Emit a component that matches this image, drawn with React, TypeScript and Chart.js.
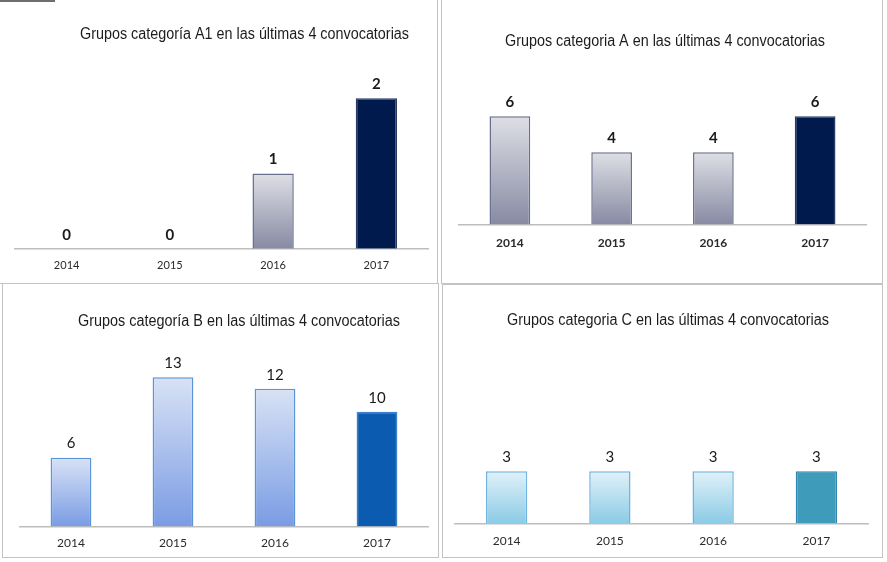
import React, { useEffect, useRef } from "react";
import { Chart, registerables } from "chart.js";

Chart.register(...registerables);

const CATEGORIES = ["2014", "2015", "2016", "2017"];
const A1_VALUES = [0, 0, 1, 2];
const A_VALUES = [6, 4, 4, 6];
const B_VALUES = [6, 13, 12, 10];
const C_VALUES = [3, 3, 3, 3];
const TITLE_A1 = "Grupos categoría A1 en las últimas 4 convocatorias";
const TITLE_A = "Grupos categoria A en las últimas 4 convocatorias";
const TITLE_B = "Grupos categoría B en las últimas 4 convocatorias";
const TITLE_C = "Grupos categoria C en las últimas 4 convocatorias";

type Panel = {
  values: number[];
  title: string;
  left: number;
  top: number;
  width: number;
  height: number;
  pad: { left: number; right: number; top: number; bottom: number };
  yMax: number;
  titleX: number;
  titleY: number;
  titleW: number;
  gradTop: string;
  gradBottom: string;
  border: string;
  lastFill: string;
  lastBorder: string;
  labelBold: boolean;
  tickBold: boolean;
  tickPad: number;
  tickSize: number;
};

const PANELS: Panel[] = [
  {
    values: A1_VALUES, title: TITLE_A1,
    left: 0, top: 0, width: 440, height: 283,
    pad: { left: 15, right: 12, top: 53, bottom: 9 }, yMax: 2.6,
    titleX: 244.5, titleY: 35, titleW: 329,
    gradTop: "#dedfe5", gradBottom: "#878aa3", border: "#68708e",
    lastFill: "#001a4e", lastBorder: "#2a3a66",
    labelBold: true, tickBold: false, tickPad: 2, tickSize: 11,
  },
  {
    values: A_VALUES, title: TITLE_A,
    left: 442, top: 0, width: 443, height: 283,
    pad: { left: 17, right: 19, top: 62, bottom: 30 }, yMax: 9,
    titleX: 223, titleY: 42, titleW: 320,
    gradTop: "#dedfe5", gradBottom: "#878aa3", border: "#68708e",
    lastFill: "#001a4e", lastBorder: "#2a3a66",
    labelBold: true, tickBold: true, tickPad: 3, tickSize: 12,
  },
  {
    values: B_VALUES, title: TITLE_B,
    left: 0, top: 283, width: 440, height: 276,
    pad: { left: 20, right: 12, top: 62, bottom: 8 }, yMax: 15.8,
    titleX: 239, titleY: 39, titleW: 322,
    gradTop: "#d8e2f5", gradBottom: "#7a9ce4", border: "#5b95d8",
    lastFill: "#0b5bb0", lastBorder: "#3b7fca",
    labelBold: false, tickBold: false, tickPad: 1, tickSize: 12,
  },
  {
    values: C_VALUES, title: TITLE_C,
    left: 442, top: 284, width: 443, height: 275,
    pad: { left: 13, right: 17, top: 62, bottom: 9 }, yMax: 10.2,
    titleX: 226, titleY: 37, titleW: 322,
    gradTop: "#e0f1f9", gradBottom: "#8bcbe5", border: "#6fb3de",
    lastFill: "#3e9cba", lastBorder: "#2f85b0",
    labelBold: false, tickBold: false, tickPad: 2, tickSize: 12,
  },
];

function ChartPanel({ p }: { p: Panel }) {
  const ref = useRef<HTMLCanvasElement | null>(null);
  useEffect(() => {
    if (!ref.current) return;
    const titlePlugin = {
      id: "panelTitle",
      afterDraw(chart: any) {
        const c = chart.ctx;
        c.save();
        c.font = "16px 'Liberation Sans', Arial, sans-serif";
        c.fillStyle = "#1c1c1c";
        c.textAlign = "center";
        c.textBaseline = "middle";
        c.fillText(p.title, p.titleX, p.titleY, p.titleW);
        c.restore();
      },
    };
    const labelPlugin = {
      id: "valueLabels",
      afterDatasetsDraw(chart: any) {
        const c = chart.ctx;
        const meta = chart.getDatasetMeta(0);
        c.save();
        c.font = (p.labelBold ? "bold " : "") + "15px Lato, 'Open Sans', sans-serif";
        c.fillStyle = "#1a1a1a";
        c.textAlign = "center";
        c.textBaseline = "middle";
        meta.data.forEach((el: any, i: number) => {
          c.fillText(String(p.values[i]), el.x, el.y - 14);
        });
        c.restore();
      },
    };
    const chart = new Chart(ref.current, {
      type: "bar",
      data: {
        labels: CATEGORIES,
        datasets: [
          {
            data: p.values,
            backgroundColor: (ctx: any) => {
              if (ctx.dataIndex === 3) return p.lastFill;
              const chart = ctx.chart;
              if (!chart.chartArea || !chart.scales.y) return p.gradTop;
              const y = chart.scales.y;
              const t = y.getPixelForValue(ctx.raw as number);
              const b = y.getPixelForValue(0);
              if (!(b - t > 0.5)) return p.gradTop;
              const g = chart.ctx.createLinearGradient(0, t, 0, b);
              g.addColorStop(0, p.gradTop);
              g.addColorStop(1, p.gradBottom);
              return g;
            },
            borderColor: (ctx: any) => (ctx.dataIndex === 3 ? p.lastBorder : p.border),
            borderWidth: (ctx: any) => ((ctx.raw as number) === 0 ? 0 : 1.5),
            borderSkipped: "start",
            categoryPercentage: 1,
            barPercentage: 0.4,
          },
        ],
      },
      options: {
        animation: false,
        responsive: false,
        maintainAspectRatio: false,
        layout: { padding: p.pad },
        plugins: { legend: { display: false }, tooltip: { enabled: false }, title: { display: false } },
        scales: {
          x: {
            grid: { display: false },
            border: { display: true, color: "#bdbdbd", width: 1.5 },
            ticks: {
              color: "#2a2a2a",
              padding: p.tickPad,
              font: { family: "Lato, 'Open Sans', sans-serif", size: p.tickSize, weight: p.tickBold ? "bold" : "normal" },
            },
          },
          y: { display: false, min: 0, max: p.yMax },
        },
      },
      plugins: [titlePlugin, labelPlugin],
    } as any);
    return () => chart.destroy();
  }, [p]);
  return (
    <canvas
      ref={ref}
      width={p.width}
      height={p.height}
      style={{ position: "absolute", left: p.left, top: p.top, width: p.width, height: p.height }}
    />
  );
}

const borderColor = "#c4c4c4";

export default function App() {
  return (
    <div style={{ position: "absolute", left: 0, top: 0, width: 887, height: 562, background: "#fff", overflow: "hidden" }}>
      {PANELS.map((p, i) => (
        <ChartPanel key={i} p={p} />
      ))}
      <div style={{ position: "absolute", left: 0, top: 0, width: 55, height: 2, background: "#6e6e6e" }} />
      <div style={{ position: "absolute", left: 0, top: -1, width: 438, height: 285, boxSizing: "border-box", borderRight: `1px solid ${borderColor}`, borderBottom: `1px solid ${borderColor}`, pointerEvents: "none" }} />
      <div style={{ position: "absolute", left: 441, top: -1, width: 442, height: 285, boxSizing: "border-box", border: `1px solid ${borderColor}`, borderTop: "none", pointerEvents: "none" }} />
      <div style={{ position: "absolute", left: 2, top: 283, width: 437, height: 275, boxSizing: "border-box", border: `1px solid ${borderColor}`, pointerEvents: "none" }} />
      <div style={{ position: "absolute", left: 442, top: 284, width: 441, height: 274, boxSizing: "border-box", border: `1px solid ${borderColor}`, pointerEvents: "none" }} />
    </div>
  );
}
